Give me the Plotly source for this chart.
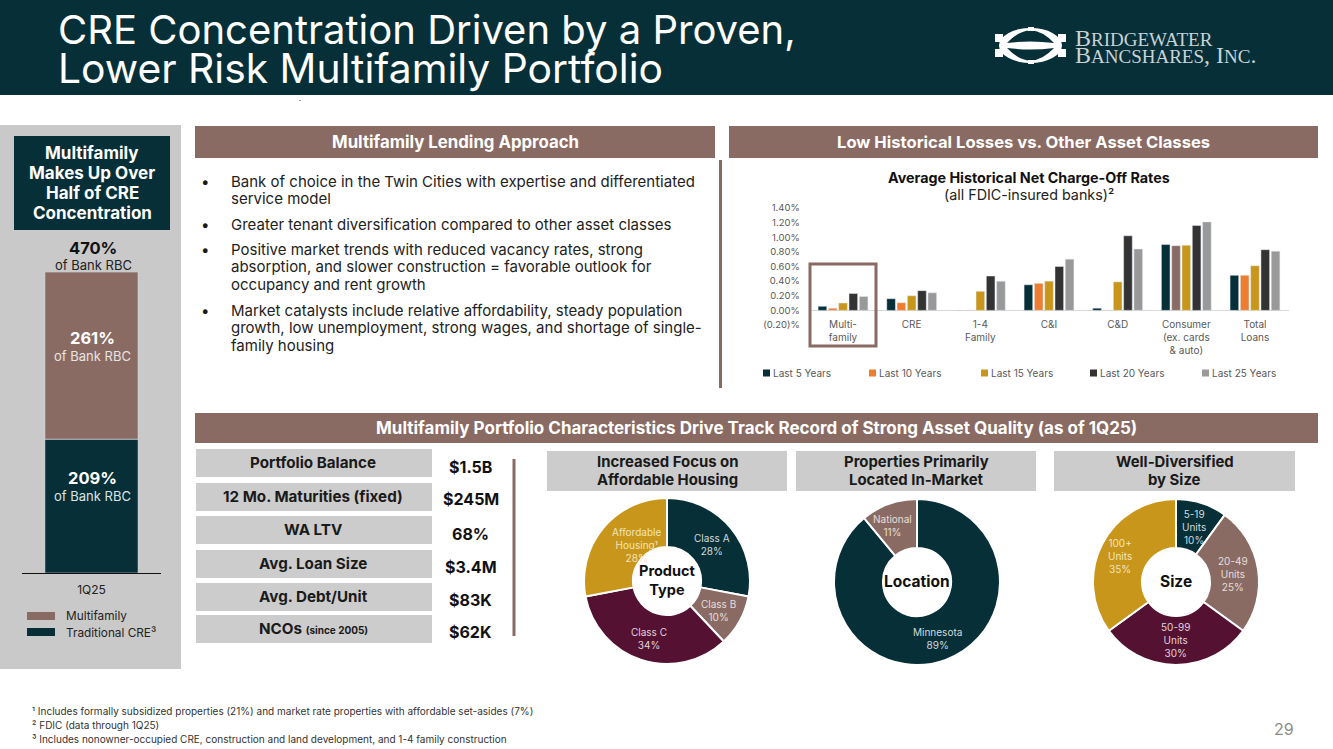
import plotly.graph_objects as go

W = 1333
H = 749

DARK = '#062F38'
BROWN = '#8A6B63'
MAROON = '#541132'
GOLD = '#C8961A'
GREY = '#C9C9C9'
BODY_FONT = 'Inter'

# average historical net charge-off rates
nco_cats = ['Multi-<br>family', 'CRE', '1-4<br>Family', 'C&I', 'C&D', 'Consumer<br>(ex. cards<br>& auto)', 'Total<br>Loans']
nco_5y = [0.055, 0.16, -0.005, 0.35, 0.03, 0.90, 0.48]
nco_10y = [0.03, 0.105, 0.005, 0.37, 0.005, 0.885, 0.48]
nco_15y = [0.10, 0.20, 0.26, 0.40, 0.39, 0.89, 0.61]
nco_20y = [0.23, 0.27, 0.47, 0.60, 1.02, 1.16, 0.83]
nco_25y = [0.19, 0.24, 0.40, 0.70, 0.84, 1.21, 0.81]
nco_names = ['Last 5 Years', 'Last 10 Years', 'Last 15 Years', 'Last 20 Years', 'Last 25 Years']
nco_ticks = [-0.2, 0, 0.2, 0.4, 0.6, 0.8, 1.0, 1.2, 1.4]
nco_tick_labels = ['(0.20)%', '0.00%', '0.20%', '0.40%', '0.60%', '0.80%', '1.00%', '1.20%', '1.40%']

# CRE concentration stack
cre_period = ['1Q25']
cre_traditional = [209]
cre_multifamily = [261]
cre_total = 470

# portfolio table
table_labels = ['Portfolio Balance', '12 Mo. Maturities (fixed)', 'WA LTV', 'Avg. Loan Size', 'Avg. Debt/Unit',
                'NCOs <span style="font-size:10px">(since 2005)</span>']
table_values = ['$1.5B', '$245M', '68%', '$3.4M', '$83K', '$62K']

# donuts
type_labels = ['Class A', 'Class B', 'Class C', 'Affordable<br>Housing¹']
type_values = [28, 10, 34, 28]
loc_labels = ['Minnesota', 'National']
loc_values = [89, 11]
size_labels = ['5-19<br>Units', '20-49<br>Units', '50-99<br>Units', '100+<br>Units']
size_values = [10, 25, 30, 35]

bullets = [
    ['Bank of choice in the Twin Cities with expertise and differentiated', 'service model'],
    ['Greater tenant diversification compared to other asset classes'],
    ['Positive market trends with reduced vacancy rates, strong',
     'absorption, and slower construction = favorable outlook for',
     'occupancy and rent growth'],
    ['Market catalysts include relative affordability, steady population',
     'growth, low unemployment, strong wages, and shortage of single-',
     'family housing'],
]
footnotes = [
    '¹ Includes formally subsidized properties (21%) and market rate properties with affordable set-asides (7%)',
    '² FDIC (data through 1Q25)',
    '³ Includes nonowner-occupied CRE, construction and land development, and 1-4 family construction',
]

shapes = []
annotations = []


def px(x):
    return x / W


def py(y):
    return 1 - y / H


def rect(x0, y0, x1, y1, color, layer='below', line=None, width=0):
    shapes.append(dict(type='rect', xref='paper', yref='paper', x0=px(x0), x1=px(x1), y0=py(y0), y1=py(y1),
                       fillcolor=color, layer=layer, line=dict(color=line, width=width)))


def ellipse(x0, y0, x1, y1, color):
    shapes.append(dict(type='circle', xref='paper', yref='paper', x0=px(x0), x1=px(x1), y0=py(y1), y1=py(y0),
                       fillcolor=color, layer='below', line=dict(width=0)))


def lens(x0, x1, y_edge, y_ctrl, y_inner, color):
    # one half of the logo's eye: outer curve out and a flatter curve back
    xm = (x0 + x1) / 2
    path = (f'M {px(x0)} {py(y_edge)} Q {px(xm)} {py(y_ctrl)} {px(x1)} {py(y_edge)} '
            f'Q {px(xm)} {py(y_inner)} {px(x0)} {py(y_edge)} Z')
    shapes.append(dict(type='path', xref='paper', yref='paper', path=path, fillcolor=color, layer='below',
                       line=dict(width=0)))


def text(x, y, s, size=14, color='#1A1A1A', bold=False, anchor='center', font=BODY_FONT):
    if bold:
        s = f'<b>{s}</b>'
    annotations.append(dict(xref='paper', yref='paper', x=px(x), y=py(y), text=s, showarrow=False,
                            xanchor=anchor, yanchor='middle', align=anchor,
                            font=dict(size=size, color=color, family=font)))


fig = go.Figure()

# header
rect(0, 0, W, 95, DARK)
text(56, 29, 'CRE Concentration Driven by a Proven,', 40, '#FFFFFF', anchor='left')
text(56, 68, 'Lower Risk Multifamily Portfolio', 40.8, '#FFFFFF', anchor='left')
rect(299.5, 100, 300.5, 101, '#444444')

# logo
ellipse(999, 28, 1062, 63, '#FFFFFF')
lens(1007, 1054, 43, 18, 40, DARK)
lens(1007, 1054, 48, 73, 51, DARK)
rect(995, 34, 1003, 42, '#FFFFFF')
rect(995, 49, 1003, 57, '#FFFFFF')
rect(1058, 34, 1066, 42, '#FFFFFF')
rect(1058, 49, 1066, 57, '#FFFFFF')
rect(1028, 27, 1034, 31, '#FFFFFF')
rect(1028, 60, 1034, 64, '#FFFFFF')
text(1073, 38, 'B<span style="font-size:19px">RIDGEWATER</span>', 24, '#C8D3D6', anchor='left', font='Liberation Serif')
text(1073, 55, 'B<span style="font-size:19px">ANCSHARES</span>, I<span style="font-size:19px">NC</span>.', 24,
     '#C8D3D6', anchor='left', font='Liberation Serif')

# left panel
rect(0, 125, 181, 669, GREY)
rect(14, 136, 170, 230, DARK)
for i, line in enumerate(['Multifamily', 'Makes Up Over', 'Half of CRE', 'Concentration']):
    text(92, 153 + i * 20, line, 17, '#FFFFFF', bold=True)
text(93, 248, f'{cre_total}%', 16.5, '#111111', bold=True)
text(93, 265, 'of Bank RBC', 13, '#222222')
text(92, 338, f'{cre_multifamily[0]}%', 16.5, '#FFFFFF', bold=True)
text(92, 356, 'of Bank RBC', 13, '#E8E4E2')
text(92, 478, f'{cre_traditional[0]}%', 16.5, '#FFFFFF', bold=True)
text(92, 496, 'of Bank RBC', 13, '#DDE3E4')
rect(27, 612, 55, 620, BROWN)
rect(27, 628, 55, 636, DARK)
text(64, 616, 'Multifamily', 11.8, '#222222', anchor='left')
text(64, 633, 'Traditional CRE³', 11.8, '#222222', anchor='left')

fig.add_trace(go.Bar(x=cre_period, y=cre_traditional, marker_color=DARK, width=0.67, offsetgroup='cre',
                     xaxis='x2', yaxis='y2', showlegend=False, name='Traditional CRE'))
fig.add_trace(go.Bar(x=cre_period, y=cre_multifamily, base=cre_traditional, marker_color=BROWN, width=0.67,
                     offsetgroup='cre', xaxis='x2', yaxis='y2', showlegend=False, name='Multifamily'))

# section headers
rect(195, 126, 715, 158, BROWN)
text(455, 142, 'Multifamily Lending Approach', 16.8, '#FFFFFF', bold=True)
rect(729, 126, 1318, 158, BROWN)
text(1023, 142, 'Low Historical Losses vs. Other Asset Classes', 16.6, '#FFFFFF', bold=True)
rect(195, 413, 1318, 443, BROWN)
text(756, 428, 'Multifamily Portfolio Characteristics Drive Track Record of Strong Asset Quality (as of 1Q25)', 17,
     '#FFFFFF', bold=True)
rect(719, 160, 722, 388, BROWN)

# bullets
bullet_rows = [181, 224, 249, 310]
for rows, y0 in zip(bullets, bullet_rows):
    text(205, y0, '•', 15, anchor='center')
    for i, line in enumerate(rows):
        text(229, y0 + i * 17.5, line, 15, '#222222', anchor='left')

# charge-off chart
text(1029, 178, 'Average Historical Net Charge-Off Rates', 14.3, '#111111', bold=True)
text(1029, 194, '(all FDIC-insured banks)²', 14.3, '#222222')
nco_series = [nco_5y, nco_10y, nco_15y, nco_20y, nco_25y]
nco_colors = [DARK, '#ED7D31', GOLD, '#333333', '#999999']
for name, vals, color in zip(nco_names, nco_series, nco_colors):
    # the consumer bar in the 10 year series is brown in the source
    colors = [BROWN if (name == 'Last 10 Years' and c.startswith('Consumer')) else color for c in nco_cats]
    fig.add_trace(go.Bar(x=nco_cats, y=vals, name=name, marker_color=colors, showlegend=False))
legend_x = [763, 869, 981, 1090, 1202]
for x, name, color in zip(legend_x, nco_names, nco_colors):
    rect(x, 369.5, x + 7, 376.5, color)
    text(x + 8, 373, name, 10, '#595959', anchor='left')
rect(810, 264, 876, 346, 'rgba(0,0,0,0)', layer='above', line=BROWN, width=3)

# portfolio table
table_rows = [(449, 477), (483, 511), (516, 544), (550, 578), (583, 611), (615, 643)]
value_rows = [467, 499, 534, 567, 600, 632]
for (y0, y1), label, val, vy in zip(table_rows, table_labels, table_values, value_rows):
    rect(196, y0, 432, y1, '#CCCCCC')
    text(313, (y0 + y1) / 2 - 0.5, label, 15.2, '#1A1A1A', bold=True)
    text(471, vy, val, 16, '#111111', bold=True)
rect(512.5, 459, 515.5, 636, BROWN)

# donuts
donut_heads = [
    (547, 787, ['Increased Focus on', 'Affordable Housing']),
    (796, 1036, ['Properties Primarily', 'Located In-Market']),
    (1054, 1295, ['Well-Diversified', 'by Size']),
]
for x0, x1, lines in donut_heads:
    rect(x0, 451, x1, 491, '#CCCCCC')
    text((x0 + x1) / 2, 462, lines[0], 14.9, '#1A1A1A', bold=True)
    text((x0 + x1) / 2, 480, lines[1], 14.9, '#1A1A1A', bold=True)


def donut(cx, cy, labels, values, colors):
    r = 83
    fig.add_trace(go.Pie(labels=[x.replace('<br>', ' ') for x in labels], values=values, hole=0.41, sort=False,
                         direction='clockwise', rotation=0, textinfo='none', hoverinfo='label+percent',
                         marker=dict(colors=colors, line=dict(color='#FFFFFF', width=2)), showlegend=False,
                         domain=dict(x=[px(cx - r), px(cx + r)], y=[py(cy + r), py(cy - r)])))


donut(667, 581, type_labels, type_values, [DARK, BROWN, MAROON, GOLD])
donut(917, 582, loc_labels, loc_values, [DARK, BROWN])
donut(1176, 582, size_labels, size_values, [DARK, BROWN, MAROON, GOLD])

# slice labels sit where the source puts them
type_pos = [(712, 544), (718, 610), (649, 638), (636, 545)]
type_text = ['#D3DADC', '#E6DEDB', '#E2D3DB', '#F3E4BE']
for (x, y), label, val, col in zip(type_pos, type_labels, type_values, type_text):
    text(x, y, f'{label}<br>{val}%', 10, col, anchor='center')
loc_pos = [(937, 638), (892, 525)]
loc_text = ['#D3DADC', '#E6DEDB']
for (x, y), label, val, col in zip(loc_pos, loc_labels, loc_values, loc_text):
    text(x, y, f'{label}<br>{val}%', 10, col)
size_pos = [(1194, 527), (1233, 574), (1175, 640), (1120, 556)]
for (x, y), label, val, col in zip(size_pos, size_labels, size_values, type_text):
    text(x, y, f'{label}<br>{val}%', 10, col)

text(667, 580, 'Product<br>Type', 14.5, '#111111', bold=True)
text(917, 581, 'Location', 15.5, '#111111', bold=True)
text(1176, 581, 'Size', 15.5, '#111111', bold=True)

# footer
for i, line in enumerate(footnotes):
    text(30, 711 + i * 14, line, 10, '#333333', anchor='left')
text(1284, 729, '29', 16, '#8C8C8C')

fig.update_layout(
    width=W, height=H,
    margin=dict(l=0, r=0, t=0, b=0, autoexpand=False),
    paper_bgcolor='#FFFFFF',
    plot_bgcolor='rgba(0,0,0,0)',
    barmode='group',
    bargap=0.25,
    bargroupgap=0.16,
    showlegend=False,
    shapes=shapes,
    annotations=annotations,
    font=dict(family=BODY_FONT),
    xaxis=dict(domain=[px(808.7), px(1289.3)], showgrid=False, showline=False, ticks='', ticklabelstandoff=-8,
               tickfont=dict(size=10, color='#595959', family=BODY_FONT), tickangle=0),
    yaxis=dict(domain=[py(325), py(208)], range=[-0.2, 1.4], tickvals=nco_ticks, ticktext=nco_tick_labels,
               showgrid=False, zeroline=True, zerolinecolor='#D9D9D9', zerolinewidth=1, ticks='outside', ticklen=6,
               tickcolor='rgba(0,0,0,0)', tickfont=dict(size=9.5, color='#595959', family=BODY_FONT)),
    xaxis2=dict(domain=[px(22), px(161)], anchor='y2', showgrid=False, showline=True, linecolor='#111111', linewidth=1,
                ticks='', ticklabelstandoff=6, tickfont=dict(size=12, color='#222222', family=BODY_FONT)),
    yaxis2=dict(domain=[py(573), py(272)], anchor='x2', range=[0, cre_total], visible=False),
)

fig.write_html('out.html', config=dict(displayModeBar=False),
               post_script="document.body.style.margin='0';")
